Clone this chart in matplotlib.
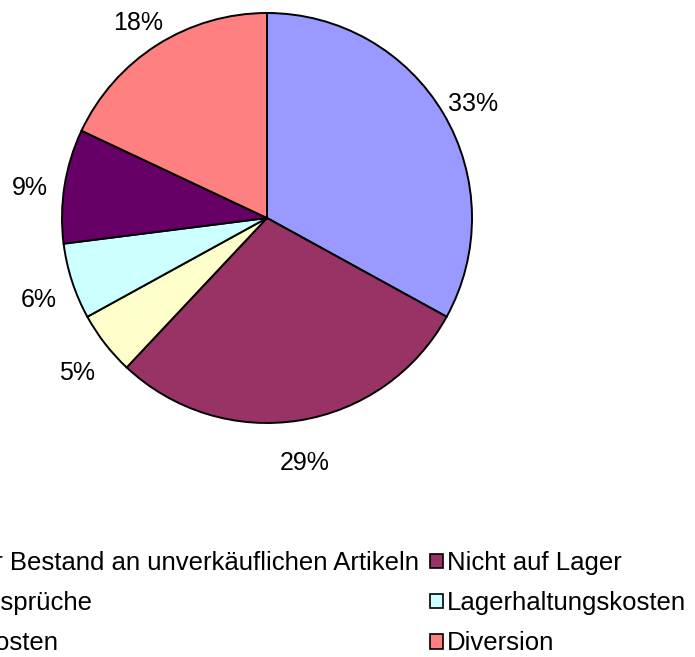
import matplotlib
matplotlib.use('Agg')
import matplotlib.pyplot as plt
from matplotlib.patches import Patch
from matplotlib.transforms import offset_copy

plt.rcParams['font.family'] = ['Liberation Sans', 'DejaVu Sans']

categories = ['Überhöhter Bestand an unverkäuflichen Artikeln', 'Nicht auf Lager',
              'Garantieansprüche', 'Lagerhaltungskosten',
              'Transportkosten', 'Diversion']
shares = [33, 29, 5, 6, 9, 18]
colors = ['#9999FF', '#993366', '#FFFFCC', '#CCFFFF', '#660066', '#FF8080']

W, H = 695, 657
fig = plt.figure(figsize=(W / 100, H / 100), dpi=100)

# pie centre ~ (267, 218) px, radius ~205 px
cx, cy, r = 267, 218, 205
ax = fig.add_axes([(cx - r) / W, (H - cy - r) / H, 2 * r / W, 2 * r / H])
wedges, texts = ax.pie(shares, colors=colors, startangle=90, counterclock=False,
                       labels=['%d%%' % s for s in shares], labeldistance=1.17,
                       wedgeprops=dict(edgecolor='black', linewidth=1.4),
                       textprops=dict(fontsize=18))
# excel puts the labels a bit lower than matplotlib does
shifted = offset_copy(ax.transData, fig=fig, x=0, y=-8, units='dots')
for t in texts:
    t.set_ha('center')
    t.set_va('center')
    t.set_transform(shifted)
ax.set_xlim(-1, 1)
ax.set_ylim(-1, 1)
ax.set_aspect('equal')

# legend, filled column by column -> reorder so rows read like the original
order = [0, 2, 4, 1, 3, 5]
handles = [Patch(facecolor=colors[i], edgecolor='black', linewidth=1.2) for i in order]
labels = [categories[i] for i in order]
fig.legend(handles, labels, ncol=2, loc='upper left',
           bbox_to_anchor=(-143 / W, 1 - 551 / H), frameon=False,
           fontsize=18.5, borderpad=0, borderaxespad=0,
           handlelength=0.5, handleheight=0.5, handletextpad=0.15,
           columnspacing=0.45, labelspacing=0.63)

fig.savefig('out.png', dpi=100)
